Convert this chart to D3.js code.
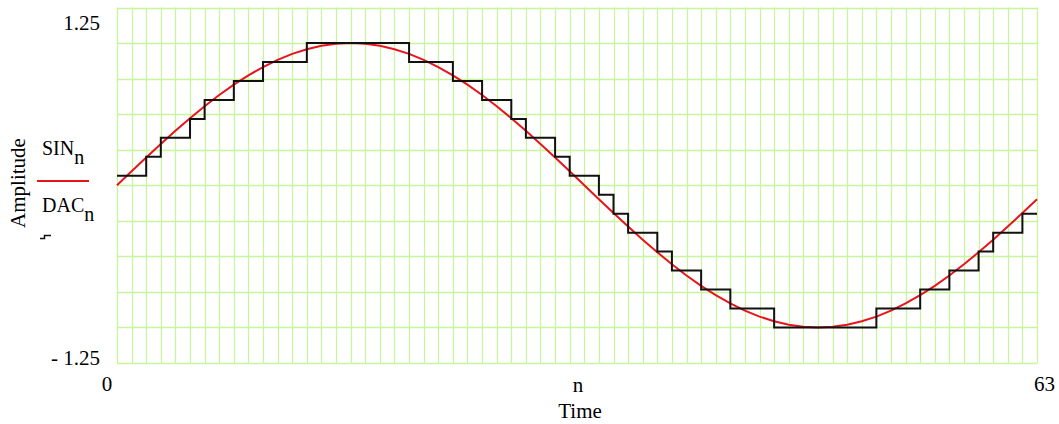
<!DOCTYPE html>
<html>
<head>
<meta charset="utf-8">
<script src="https://cdn.jsdelivr.net/npm/d3@7"></script>
<style>
  html, body { margin: 0; padding: 0; background: #fff; }
  svg { display: block; }
  text { font-family: "Liberation Serif", "DejaVu Serif", serif; fill: #000; }
</style>
</head>
<body>
<svg id="chart" width="1059" height="424"></svg>
<script>
// ---- data ----
const sinValues = [
  0, 0.0980, 0.1951, 0.2903, 0.3827, 0.4714, 0.5556, 0.6344,
  0.7071, 0.7730, 0.8315, 0.8819, 0.9239, 0.9569, 0.9808, 0.9952,
  1, 0.9952, 0.9808, 0.9569, 0.9239, 0.8819, 0.8315, 0.7730,
  0.7071, 0.6344, 0.5556, 0.4714, 0.3827, 0.2903, 0.1951, 0.0980,
  0, -0.0980, -0.1951, -0.2903, -0.3827, -0.4714, -0.5556, -0.6344,
  -0.7071, -0.7730, -0.8315, -0.8819, -0.9239, -0.9569, -0.9808, -0.9952,
  -1, -0.9952, -0.9808, -0.9569, -0.9239, -0.8819, -0.8315, -0.7730,
  -0.7071, -0.6344, -0.5556, -0.4714, -0.3827, -0.2903, -0.1951, -0.0980
];
const dacValues = [
  0.0667, 0.0667, 0.2, 0.3333, 0.3333, 0.4667, 0.6, 0.6,
  0.7333, 0.7333, 0.8667, 0.8667, 0.8667, 1, 1, 1,
  1, 1, 1, 1, 0.8667, 0.8667, 0.8667, 0.7333,
  0.7333, 0.6, 0.6, 0.4667, 0.3333, 0.3333, 0.2, 0.0667,
  0.0667, -0.0667, -0.2, -0.3333, -0.3333, -0.4667, -0.6, -0.6,
  -0.7333, -0.7333, -0.8667, -0.8667, -0.8667, -1, -1, -1,
  -1, -1, -1, -1, -0.8667, -0.8667, -0.8667, -0.7333,
  -0.7333, -0.6, -0.6, -0.4667, -0.3333, -0.3333, -0.2, -0.0667
];
const xDomain = [0, 63];
const yDomain = [-1.25, 1.25];
const yTickLabels = ["- 1.25", "1.25"];
const xTickLabels = ["0", "63"];
const xCenterLabel = "n";
const xTitle = "Time";
const yTitle = "Amplitude";
const legendTop = "SIN";
const legendBottom = "DAC";
const legendSub = "n";

// ---- layout ----
const svg = d3.select("#chart");
const pLeft = 117, pRight = 1037, pTop = 7.5, pBottom = 363;
const x = d3.scaleLinear().domain(xDomain).range([pLeft, pRight]);
const y = d3.scaleLinear().domain(yDomain).range([pBottom, pTop]);

const gridColor = "#c6f59c";
const g = svg.append("g");
g.selectAll("line.v").data(d3.range(xDomain[0], xDomain[1] + 1)).join("line")
  .attr("x1", d => Math.round(x(d)) + 0.5).attr("x2", d => Math.round(x(d)) + 0.5)
  .attr("y1", y(yDomain[1])).attr("y2", y(yDomain[0]))
  .attr("stroke", gridColor).attr("stroke-width", 1.2);
g.selectAll("line.h").data(d3.range(-1.25, 1.2501, 0.25)).join("line")
  .attr("x1", x(xDomain[0])).attr("x2", x(xDomain[1]))
  .attr("y1", d => Math.round(y(d)) + 0.5).attr("y2", d => Math.round(y(d)) + 0.5)
  .attr("stroke", gridColor).attr("stroke-width", 1.4);

// sine line
const sinLine = d3.line().x((d, i) => x(i)).y(d => y(d));
svg.append("path").datum(sinValues)
  .attr("d", sinLine).attr("fill", "none")
  .attr("stroke", "#e8141b").attr("stroke-width", 2);

// DAC step
const stepPts = dacValues.slice(0, dacValues.length - 1).map((v, i) => [i, v]);
stepPts.push([xDomain[1], dacValues[dacValues.length - 2]]);
const stepLine = d3.line().x(d => x(d[0])).y(d => y(d[1])).curve(d3.curveStepAfter);
svg.append("path").datum(stepPts)
  .attr("d", stepLine).attr("fill", "none")
  .attr("stroke", "#111").attr("stroke-width", 2);

// tick labels
const fs = 21;
svg.append("text").attr("x", 100).attr("y", 30).attr("text-anchor", "end")
  .attr("font-size", fs).text(yTickLabels[1]);
svg.append("text").attr("x", 100).attr("y", 365).attr("text-anchor", "end")
  .attr("font-size", fs).text(yTickLabels[0]);
svg.append("text").attr("x", 107).attr("y", 391).attr("text-anchor", "middle")
  .attr("font-size", fs).text(xTickLabels[0]);
svg.append("text").attr("x", 1034).attr("y", 391).attr("text-anchor", "start")
  .attr("font-size", fs).text(xTickLabels[1]);
svg.append("text").attr("x", (pLeft + pRight) / 2 + 1).attr("y", 392).attr("text-anchor", "middle")
  .attr("font-size", fs).text(xCenterLabel);
svg.append("text").attr("x", (pLeft + pRight) / 2 + 3).attr("y", 418).attr("text-anchor", "middle")
  .attr("font-size", fs).text(xTitle);

// y title
svg.append("text").attr("transform", "translate(25,183) rotate(-90)")
  .attr("text-anchor", "middle").attr("font-size", fs).text(yTitle);

// legend
const t1 = svg.append("text").attr("x", 42).attr("y", 155).attr("font-size", 20);
t1.append("tspan").text(legendTop);
t1.append("tspan").attr("dy", 9).text(legendSub);
svg.append("line").attr("x1", 37).attr("x2", 89).attr("y1", 181).attr("y2", 181)
  .attr("stroke", "#e8141b").attr("stroke-width", 2);
const t2 = svg.append("text").attr("x", 42).attr("y", 212).attr("font-size", 20);
t2.append("tspan").text(legendBottom);
t2.append("tspan").attr("dy", 9).text(legendSub);
svg.append("path").attr("d", "M40,238.5H44.5V235.5H51")
  .attr("fill", "none").attr("stroke", "#111").attr("stroke-width", 1.5);
</script>
</body>
</html>
